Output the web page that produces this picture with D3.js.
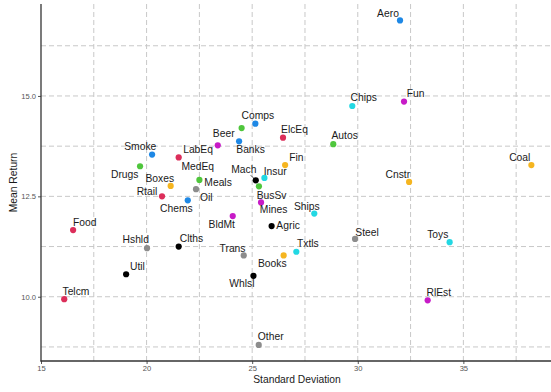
<!DOCTYPE html>
<html><head><meta charset="utf-8">
<script src="https://cdn.jsdelivr.net/npm/d3@7"></script>
<style>
html,body{margin:0;padding:0;background:#fff;}
svg{display:block;font-family:"Liberation Sans",Arial,Helvetica,sans-serif;}
</style></head>
<body>
<svg id="chart" width="551" height="392"></svg>
<script>
// ---- data ----
const industries = ["Aero","Fun","Chips","Coal","Cnstr","Toys","RlEst","Steel","Autos","Ships",
  "Txtls","Books","Trans","Whlsl","Other","Agric","Mines","BldMt","BusSv","Mach",
  "Insur","Fin","ElcEq","Comps","Beer","Banks","LabEq","MedEq","Meals","Oil",
  "Chems","Boxes","Rtail","Smoke","Drugs","Food","Hshld","Clths","Util","Telcm"];
const stdDev = [32.00,32.19,29.74,38.22,32.43,34.35,33.31,29.87,28.84,27.94,
  27.09,26.49,24.60,25.06,25.31,25.92,25.42,24.08,25.32,25.17,
  25.58,26.56,26.46,25.15,24.50,24.38,23.37,21.52,22.50,22.34,
  21.95,21.14,20.73,20.26,19.69,16.52,20.02,21.52,19.03,16.10];
const meanReturn = [16.88,14.86,14.75,13.28,12.86,11.36,9.91,11.44,13.80,12.07,
  11.12,11.03,11.03,10.52,8.80,11.76,12.35,12.01,12.75,12.90,
  12.96,13.28,13.96,14.31,14.20,13.87,13.77,13.47,12.91,12.68,
  12.40,12.76,12.50,13.54,13.25,11.66,11.21,11.25,10.56,9.94];
const group = ["blue","magenta","cyan","orange","orange","cyan","magenta","gray","green","cyan",
  "cyan","orange","gray","black","gray","black","magenta","magenta","green","black",
  "cyan","orange","red","blue","green","blue","magenta","red","green","gray",
  "blue","orange","red","blue","green","red","gray","black","black","red"];
const xTicks = [15,20,25,30,35];
const yTicks = [10.0,12.5,15.0];
const xMinor = [17.5,22.5,27.5,32.5,37.5];
const yMinor = [8.75,11.25,13.75,16.25];

// ---- label layout (pixel offsets of label centre/baseline from point) ----
const labelOffsets = [[-12,-3.2],[11.5,-4.4],[11.5,-5],[-11.6,-3.7],[-11.3,-4],[-11.9,-4],[11.1,-4.3],[12,-3.3],[11.4,-4.7],[-7.5,-3.7],
  [11.5,-5],[-11.4,12],[-11.2,-3.6],[-11.5,11.6],[12,-5],[16.5,3.3],[12.5,11],[-11,11.7],[12.7,12.4],[-11.9,-7.6],
  [10.7,-2.7],[11.3,-4],[11.5,-4.4],[2.5,-4.7],[-17.9,8.7],[11.5,12],[-19.7,8],[19.1,12.7],[18.7,6.3],[10.3,11.7],
  [-11.4,11.4],[-10.9,-4],[-15,-1.3],[-11.8,-4.7],[-15.3,12],[11.7,-4.3],[-11.3,-4.7],[12.8,-4.4],[11.3,-4],[11.7,-4]];

const palette = {blue:"#1E88E5",magenta:"#C71BC7",cyan:"#22D8E3",orange:"#F5B520",
  gray:"#8C8C8C",black:"#000000",green:"#4FC63C",red:"#DC2E5A"};

const data = industries.map((n,i)=>({name:n,sd:stdDev[i],mr:meanReturn[i],g:group[i],off:labelOffsets[i]}));

const svg = d3.select("#chart");
const x = d3.scaleLinear().domain([15,39.15]).range([41,551]);
const y = d3.scaleLinear().domain([8.40,17.29]).range([361,4]);
const color = d3.scaleOrdinal().domain(Object.keys(palette)).range(Object.values(palette));

// grid
const grid = svg.append("g").attr("stroke","#c8c8c8").attr("stroke-width",1).attr("stroke-dasharray","5,3");
grid.selectAll("line.vx").data(xTicks.concat(xMinor).filter(v=>v>15)).join("line")
  .attr("x1",d=>x(d)).attr("x2",d=>x(d)).attr("y1",4).attr("y2",361);
grid.selectAll("line.hy").data(yTicks.concat(yMinor)).join("line")
  .attr("class","hy")
  .attr("y1",d=>y(d)).attr("y2",d=>y(d)).attr("x1",41).attr("x2",551);

// axes
const xAxis = d3.axisBottom(x).tickValues(xTicks).tickSize(3).tickPadding(2).tickFormat(d3.format("d"));
const yAxis = d3.axisLeft(y).tickValues(yTicks).tickSize(3).tickPadding(2).tickFormat(d3.format(".1f"));
const gx = svg.append("g").attr("transform","translate(0,361)").call(xAxis);
const gy = svg.append("g").attr("transform","translate(41,0)").call(yAxis);
[gx,gy].forEach(g=>{
  g.select(".domain").remove();
  g.selectAll(".tick line").attr("stroke","#555");
  g.selectAll(".tick text").attr("fill","#555").style("font-size","7.6px").style("font-family","Liberation Sans, Arial, sans-serif");
});
svg.append("line").attr("x1",41).attr("x2",41).attr("y1",4).attr("y2",361.5).attr("stroke","#333").attr("stroke-width",1.3);
svg.append("line").attr("x1",40.5).attr("x2",551).attr("y1",361).attr("y2",361).attr("stroke","#333").attr("stroke-width",1.3);

// titles
svg.append("text").attr("x",297).attr("y",383).attr("text-anchor","middle")
  .style("font-size","10.3px").attr("fill","#1a1a1a").text("Standard Deviation");
svg.append("text").attr("transform","translate(16.5,182.5) rotate(-90)").attr("text-anchor","middle")
  .style("font-size","10.3px").attr("fill","#1a1a1a").text("Mean Return");

// segment for Mach label
data.filter(d=>d.name==="Mach").forEach(d=>{
  svg.append("line").attr("x1",x(d.sd)-5).attr("y1",y(d.mr)-5).attr("x2",x(d.sd)).attr("y2",y(d.mr))
    .attr("stroke","#000").attr("stroke-width",0.7);
});

// points
svg.append("g").selectAll("circle").data(data).join("circle")
  .attr("cx",d=>x(d.sd)).attr("cy",d=>y(d.mr)).attr("r",3.1).attr("fill",d=>color(d.g));

// labels
svg.append("g").selectAll("text").data(data).join("text")
  .attr("x",d=>x(d.sd)+d.off[0]).attr("y",d=>y(d.mr)+d.off[1])
  .attr("text-anchor","middle").style("font-size","10.3px").attr("fill","#1a1a1a")
  .text(d=>d.name);
</script>
</body></html>
